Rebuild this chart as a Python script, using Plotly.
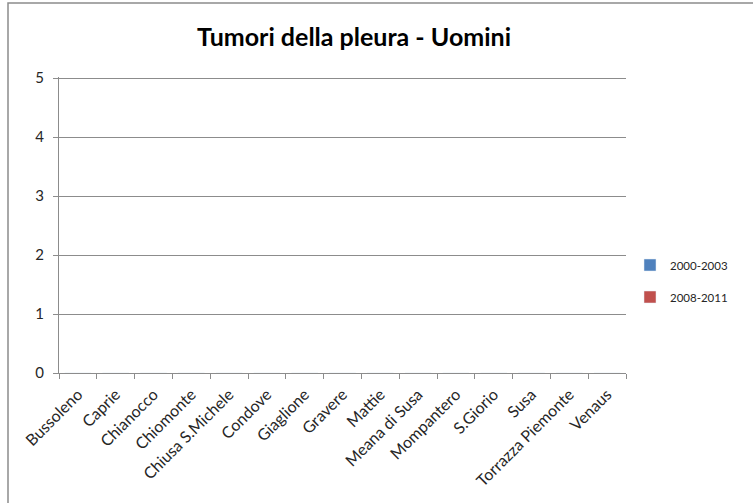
import plotly.graph_objects as go

# Chart data
COMUNI = [
    "Bussoleno", "Caprie", "Chianocco", "Chiomonte", "Chiusa S.Michele",
    "Condove", "Giaglione", "Gravere", "Mattie", "Meana di Susa",
    "Mompantero", "S.Giorio", "Susa", "Torrazza Piemonte", "Venaus",
]
VALORI_2000_2003 = [0, 0, 0, 0, 0, 0, 0, 0, 0, 0, 0, 0, 0, 0, 0]
VALORI_2008_2011 = [0, 0, 0, 0, 0, 0, 0, 0, 0, 0, 0, 0, 0, 0, 0]
Y_TICKS = [0, 1, 2, 3, 4, 5]

COLORS = {"blue": "#4F81BD", "red": "#C0504D", "grid": "#8C8C8C", "text": "#262626"}
FONT = "Lato, 'Open Sans', sans-serif"

# Pixel layout of the plot area inside the 753x503 window
W, H = 753, 503
L, R, T, B = 59, 127, 77, 130
PW, PH = W - L - R, H - T - B


def px_x(px):
    return (px - L) / PW


def px_y(py):
    return (H - B - py) / PH


fig = go.Figure()
fig.add_trace(go.Bar(x=COMUNI, y=VALORI_2000_2003, name="2000-2003",
                     legendgroup="a", marker_color=COLORS["blue"]))
fig.add_trace(go.Bar(x=COMUNI, y=VALORI_2008_2011, name="2008-2011",
                     legendgroup="b", marker_color=COLORS["red"]))

fig.update_layout(
    width=W,
    height=H,
    margin=dict(l=L, r=R, t=T, b=B, autoexpand=False),
    plot_bgcolor="white",
    paper_bgcolor="white",
    font=dict(family=FONT, size=14, color=COLORS["text"]),
    title=dict(
        text="<b>Tumori della pleura - Uomini</b>",
        x=px_x(354), xref="paper", xanchor="center",
        y=1 - 37 / H, yref="container", yanchor="middle",
        font=dict(family=FONT, size=25, color="black"),
    ),
    legend=dict(
        x=px_x(630), y=px_y(281), xanchor="left", yanchor="middle",
        font=dict(size=11.5, color=COLORS["text"]),
        tracegroupgap=13,
    ),
    bargap=0.3,
    showlegend=True,
)

fig.update_xaxes(
    showgrid=False,
    showline=True, linecolor=COLORS["grid"], linewidth=1,
    ticks="outside", tickson="boundaries", ticklen=5,
    tickcolor=COLORS["grid"], tickangle=-45,
    ticklabelstandoff=5,
    tickfont=dict(size=16),
)
fig.update_yaxes(
    range=[0, 5.02], tickvals=Y_TICKS,
    showgrid=True, gridcolor=COLORS["grid"], gridwidth=1,
    zeroline=False,
    showline=True, linecolor=COLORS["grid"], linewidth=1,
    ticks="outside", ticklen=5, tickcolor=COLORS["grid"],
    ticklabelstandoff=6,
    tickfont=dict(size=15),
)

# Chart-area frame (right and bottom edges fall outside the window)
fig.add_shape(
    type="rect", xref="paper", yref="paper",
    x0=px_x(8), x1=px_x(W + 10), y0=px_y(H + 10), y1=px_y(3),
    line=dict(color="#8C8C8C", width=1.5), fillcolor="rgba(0,0,0,0)",
    layer="below",
)

fig.write_html(
    "out.html",
    config={"displayModeBar": False},
    post_script="document.body.style.margin='0';",
)
